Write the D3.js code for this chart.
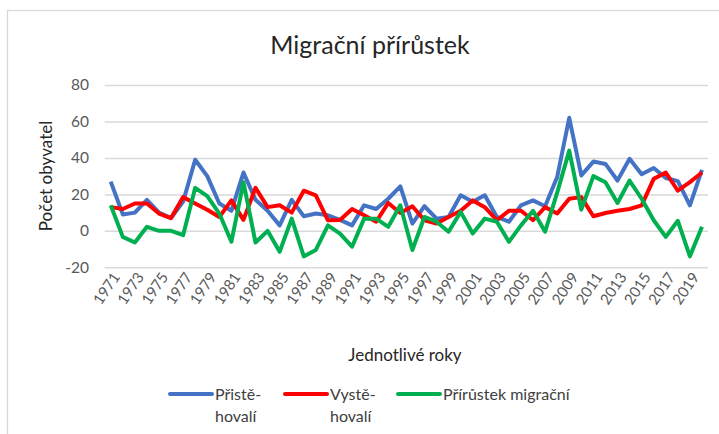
<!DOCTYPE html>
<html>
<head>
<meta charset="utf-8">
<script src="https://cdn.jsdelivr.net/npm/d3@7"></script>
<style>
  body { margin: 0; background: #fff; }
  text { font-family: Lato, "Open Sans", sans-serif; }
</style>
</head>
<body>
<svg id="chart"></svg>
<script>
const width = 719, height = 434;

const years = d3.range(1971, 2021);
const yTicks = [-20, 0, 20, 40, 60, 80];

// Přistěhovalí
const prist = [27, 9, 10, 17, 10, 7, 16, 39, 30, 15, 11, 32, 17, 11, 3, 17, 8,
  9.5, 8.5, 6, 3, 14, 12, 17.6, 24.4, 4, 13.5, 6.7, 7.6, 19.5, 16, 19.5, 7.6,
  5, 14, 16.7, 13.5, 29.5, 62, 30.4, 38, 36.7, 27.6, 39.5, 31, 34.5, 29, 27.3, 14, 33.5];
// Vystěhovalí
const vyst = [13, 12, 15, 15, 9.5, 7, 18.5, 15, 11.6, 7.6, 16.7, 6, 23.6, 13, 14, 10, 22,
  19.5, 5.8, 6, 12, 8.5, 5, 15.3, 9.8, 13.5, 5.8, 4, 7.6, 11, 16.7, 13, 5.8,
  11, 11, 5.8, 13, 9.5, 17.6, 18.5, 8, 9.8, 11, 12, 14, 28.5, 32, 22, 26.7, 32];
// Přírůstek migrační
const prir = [14, -3.3, -6.4, 2.2, 0, 0, -2.4, 23.6, 19, 9.5, -6, 26.7, -6.4, 0, -11.5, 6.7, -14,
  -10.5, 3, -1.5, -8.7, 6.7, 6.7, 2.2, 14, -10.5, 7.6, 5, -0.5, 10.4, -1.5, 6.7, 5,
  -6, 3, 11, -0.5, 21, 44, 11.6, 30, 26.7, 15.3, 27.6, 17.6, 5.8, -3.3, 5.5, -14, 2.2];

const seriesNames = [["Přistě-", "hovalí"], ["Vystě-", "hovalí"], ["Přírůstek migrační"]];
const seriesColors = ["#4472c4", "#ff0000", "#00b050"];
const seriesData = [prist, vyst, prir];

const svg = d3.select("#chart")
    .attr("width", width)
    .attr("height", height);

// chart area border
svg.append("rect")
    .attr("x", 7.5).attr("y", 10.5)
    .attr("width", 720).attr("height", 440)
    .style("fill", "none")
    .style("stroke", "#d9d9d9")
    .style("stroke-width", 1.3);

let x = d3.scalePoint().domain(years).range([104.7, 708]).padding(0.5);
let y = d3.scaleLinear().domain([-20, 80]).range([267.3, 85]);

// gridlines
let grid = svg.append("g")
    .attr("transform", "translate(104.7,0)")
    .call(d3.axisLeft(y).tickValues(yTicks).tickSize(-(708 - 104.7)).tickFormat(""));
grid.select(".domain").remove();
grid.selectAll("line").style("stroke", "#d9d9d9").style("stroke-width", 1.5);

// y tick labels
let yAxis = svg.append("g")
    .attr("transform", "translate(89,0)")
    .call(d3.axisLeft(y).tickValues(yTicks).tickSize(0).tickPadding(0).tickFormat(d => String(d)));
yAxis.select(".domain").remove();
yAxis.selectAll("text")
    .style("font-size", "15.5px")
    .style("fill", "#595959")
    .style("font-family", "Lato, sans-serif");

// x tick labels
let xAxis = svg.append("g")
    .attr("transform", "translate(0,273)")
    .call(d3.axisBottom(x).tickValues(years.filter((d, i) => i % 2 === 0)).tickSize(0).tickPadding(0));
xAxis.select(".domain").remove();
xAxis.selectAll("text")
    .attr("y", 0).attr("dy", "0.35em")
    .attr("transform", "translate(5,1) rotate(-56)")
    .style("text-anchor", "end")
    .style("font-size", "15px")
    .style("fill", "#595959")
    .style("font-family", "Lato, sans-serif");

// lines
let line = d3.line()
    .x((d, i) => x(years[i]))
    .y(d => y(d));

seriesData.forEach((s, k) => {
    svg.append("path")
        .datum(s)
        .attr("d", line)
        .style("fill", "none")
        .style("stroke", seriesColors[k])
        .style("stroke-width", 4)
        .style("stroke-linejoin", "round");
});

// title
svg.append("text")
    .attr("x", 370).attr("y", 54)
    .style("text-anchor", "middle")
    .style("font-size", "25px")
    .style("fill", "#262626")
    .text("Migrační přírůstek");

// axis titles
svg.append("text")
    .attr("transform", "translate(52,176) rotate(-90)")
    .style("text-anchor", "middle")
    .style("font-size", "17px")
    .style("fill", "#262626")
    .text("Počet obyvatel");

svg.append("text")
    .attr("x", 405).attr("y", 361)
    .style("text-anchor", "middle")
    .style("font-size", "17px")
    .style("fill", "#262626")
    .text("Jednotlivé roky");

// legend
const legendX = [170, 285, 398];
seriesNames.forEach((name, k) => {
    let g = svg.append("g").attr("transform", `translate(${legendX[k]},394)`);
    g.append("line")
        .attr("x1", 0).attr("x2", 42)
        .style("stroke", seriesColors[k])
        .style("stroke-width", 4)
        .style("stroke-linecap", "round");
    name.forEach((t, j) => {
        g.append("text")
            .attr("x", 45).attr("y", 6 + j * 22)
            .style("font-size", "16px")
            .style("fill", "#404040")
            .text(t);
    });
});
</script>
</body>
</html>
